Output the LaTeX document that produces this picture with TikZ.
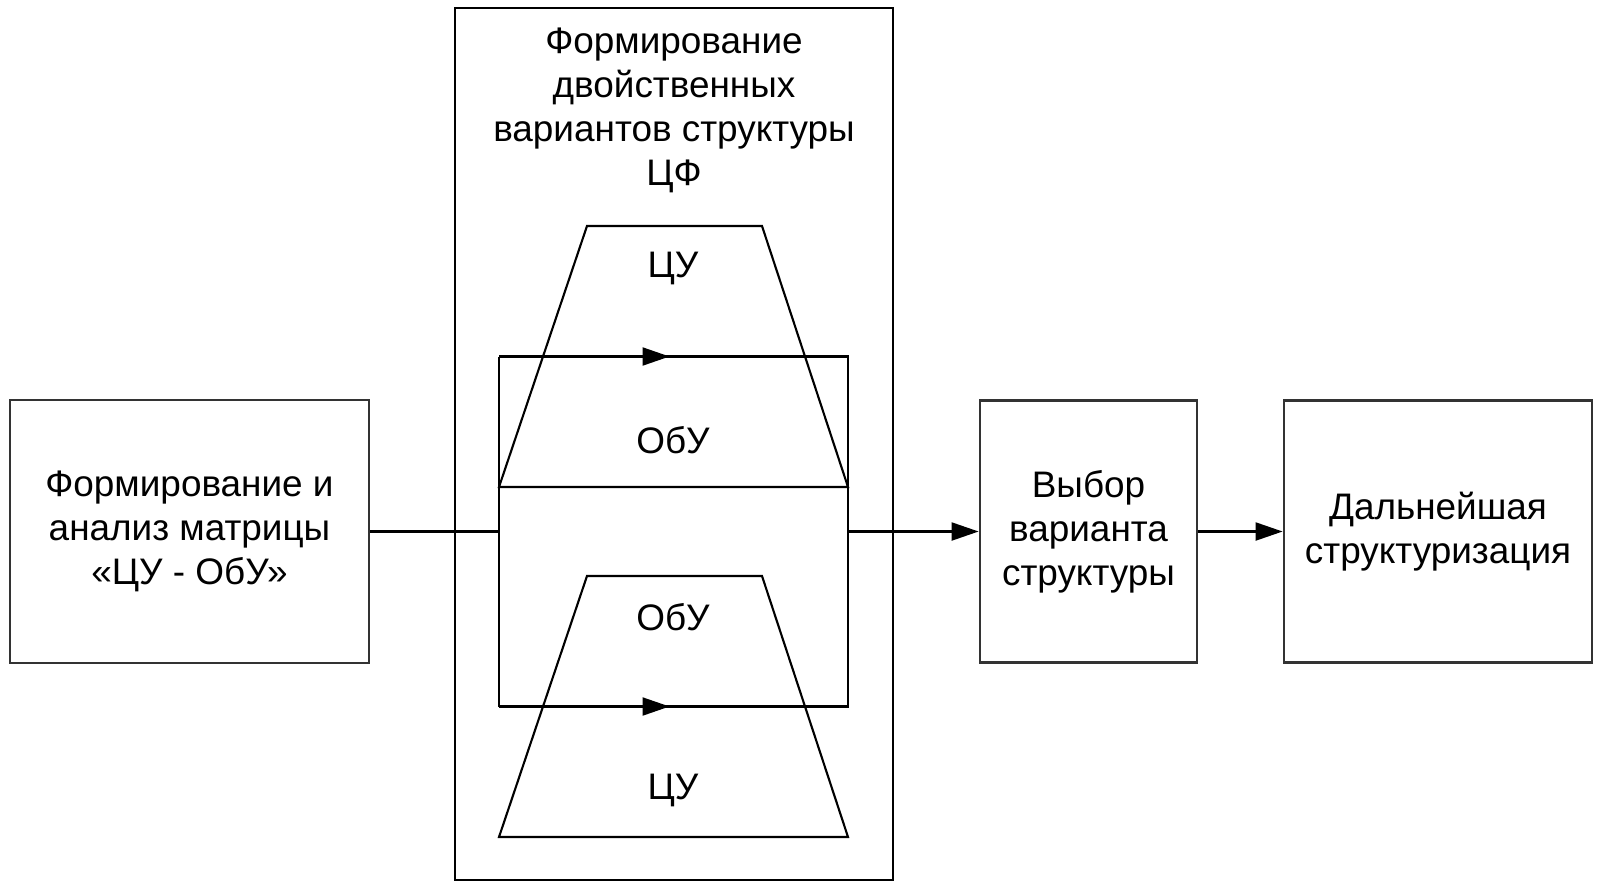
\documentclass[tikz,border=0pt]{standalone}
\usepackage{fontspec}
\setmainfont{Liberation Sans}
\usetikzlibrary{arrows.meta}
\begin{document}
\begin{tikzpicture}[
  box/.style={draw=black!80, line width=0.8pt, align=center, inner sep=0pt, font=\fontsize{10.5}{12.5}\selectfont},
  lbl/.style={font=\fontsize{10.5}{12.5}\selectfont, align=center, inner sep=0pt},
  ln/.style={line width=0.6pt, black},
  arr/.style={-{Triangle[length=2.7mm,width=1.8mm]}, line width=0.6pt, black}
]
\useasboundingbox (0,0) rectangle (15.97,8.82);

% ================= LEFT BOX =================
\node[box, minimum width=3.59cm, minimum height=2.63cm] (matr) at (1.895,3.505) {Формирование и\\ анализ матрицы\\ «ЦУ - ОбУ»};

% ================= DUAL VARIANTS PANEL =================
\node[box, draw=black, minimum width=4.38cm, minimum height=8.72cm] (dual) at (6.74,4.38) {};
\node[lbl] (title) at (6.74,7.72) {Формирование\\ двойственных\\ вариантов структуры\\ ЦФ};

% --- inner frame with flow arrows ---
\node[minimum width=3.49cm, minimum height=3.5cm, inner sep=0pt, outer sep=0pt] (pair) at (6.735,3.505) {};
\draw[arr] (pair.north west) -- ([xshift=-0.04cm]pair.north);
\draw[arr] (pair.south west) -- ([xshift=-0.04cm]pair.south);
\draw[ln] ([xshift=-0.1cm]pair.north) -- (pair.north east) -- (pair.south east) -- ([xshift=-0.1cm]pair.south);
\draw[ln] (pair.north west) -- (pair.south west);

% --- upper variant ---
\draw[ln] (4.99,3.95) -- (5.87,6.56) -- (7.62,6.56) -- (8.48,3.95) -- cycle;
\node[lbl] (cu1) at (6.73,6.14) {ЦУ};
\node[lbl] (obu1) at (6.73,4.42) {ОбУ};

% --- lower variant ---
\draw[ln] (4.99,0.45) -- (5.87,3.06) -- (7.62,3.06) -- (8.48,0.45) -- cycle;
\node[lbl] (obu2) at (6.73,2.65) {ОбУ};
\node[lbl] (cu2) at (6.73,0.92) {ЦУ};

% ================= RIGHT BOXES =================
\node[box, minimum width=2.17cm, minimum height=2.62cm] (vybor) at (10.885,3.505) {Выбор\\ варианта\\ структуры};
\node[box, minimum width=3.08cm, minimum height=2.62cm] (dalee) at (14.38,3.505) {Дальнейшая\\ структуризация};

% --- connectors ---
\draw[ln] (matr.east) -- (pair.west);
\draw[arr] (pair.east) -- (vybor.west);
\draw[arr] (vybor.east) -- (dalee.west);
\end{tikzpicture}
\end{document}
